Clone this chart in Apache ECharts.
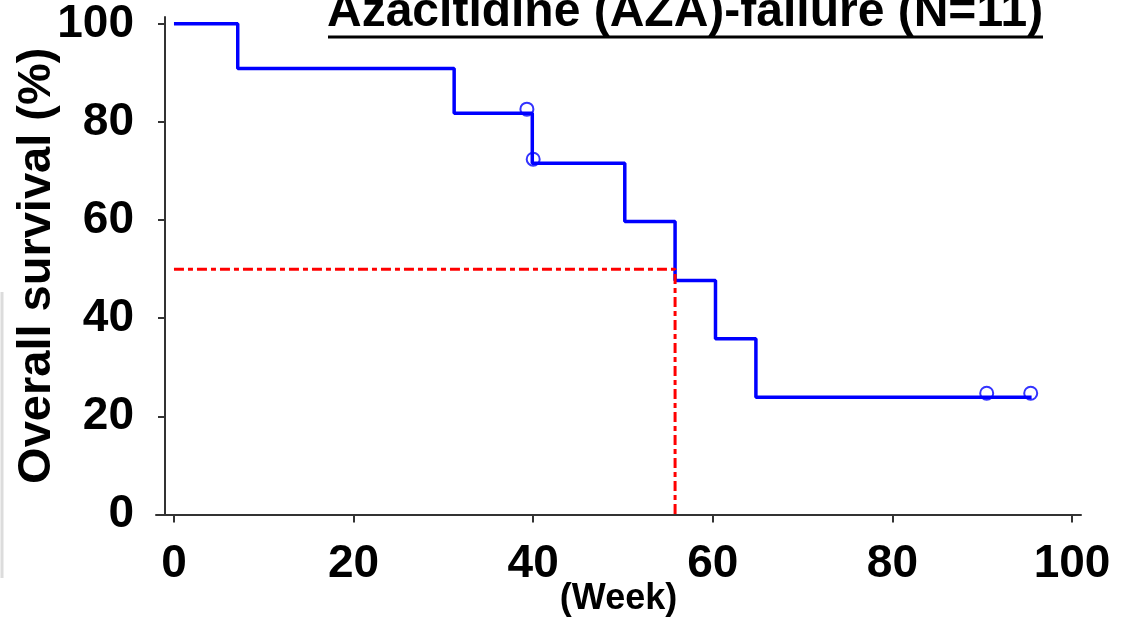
<!DOCTYPE html>
<html>
<head>
<meta charset="utf-8">
<script src="https://cdn.jsdelivr.net/npm/echarts@6/dist/echarts.min.js"></script>
<style>
html,body{margin:0;padding:0;background:#fff;}
#chart{width:1121px;height:620px;}
</style>
</head>
<body>
<div id="chart"></div>
<script>
// Kaplan-Meier curve (weeks, overall survival %)
var kmWeeks    = [0, 7.1, 31.2, 39.9, 50.2, 55.8, 60.3, 64.8, 95.5];
var kmSurvival = [100, 90.9, 81.8, 71.6, 59.7, 47.7, 35.8, 23.9, 23.9];
// Censored observations
var censorWeeks    = [39.3, 40.0, 90.5, 95.4];
var censorSurvival = [81.8, 71.6, 23.9, 23.9];
// Median survival guide
var medianWeek = 55.8;
var medianLevel = 50;
// Tick labels
var xTicks = [0, 20, 40, 60, 80, 100];
var yTicks = [0, 20, 40, 60, 80, 100];
var titleText = 'Azacitidine (AZA)-failure (N=11)';
var xName = '(Week)';
var yName = 'Overall survival (%)';

var FONT = "'Liberation Sans', Arial, sans-serif";

var kmData = kmWeeks.map(function (w, i) { return [w, kmSurvival[i]]; });
var censorData = censorWeeks.map(function (w, i) { return [w, censorSurvival[i]]; });
var medianData = [[0, medianLevel], [medianWeek, medianLevel], [medianWeek, 0]];

var chart = echarts.init(document.getElementById('chart'), null, {renderer: 'canvas'});
chart.setOption({
  animation: false,
  backgroundColor: '#ffffff',
  title: {
    text: titleText,
    left: 327,
    top: -11,
    padding: 0,
    textStyle: {fontFamily: FONT, fontSize: 48, fontWeight: 'bold', color: '#000'}
  },
  graphic: [
    {type: 'line', shape: {x1: 328, y1: 37, x2: 1043, y2: 37}, style: {stroke: '#000', lineWidth: 3}, silent: true},
    {type: 'line', shape: {x1: 2, y1: 292, x2: 2, y2: 578}, style: {stroke: '#dcdcdc', lineWidth: 3}, silent: true}
  ],
  grid: {left: 156, right: 40, top: 17, bottom: 105.5, containLabel: false, outerBoundsMode: 'none'},
  xAxis: {
    type: 'value',
    min: -2,
    max: 101,
    name: xName,
    nameLocation: 'middle',
    nameGap: 67,
    nameMoveOverlap: false,
    nameTextStyle: {fontFamily: FONT, fontSize: 36, fontWeight: 'bold', color: '#000'},
    axisLine: {show: true, onZero: false, lineStyle: {color: '#333', width: 2}},
    axisTick: {show: true, length: 8, lineStyle: {color: '#333', width: 2}, customValues: xTicks},
    axisLabel: {show: true, margin: 27, fontFamily: FONT, fontSize: 46, fontWeight: 'bold', color: '#000', customValues: xTicks},
    splitLine: {show: false}
  },
  yAxis: {
    type: 'value',
    min: 0,
    max: 101.4,
    offset: -9,
    name: yName,
    nameLocation: 'middle',
    nameGap: 104,
    nameMoveOverlap: false,
    nameTextStyle: {fontFamily: FONT, fontSize: 47, fontWeight: 'bold', color: '#000'},
    axisLine: {show: true, onZero: false, lineStyle: {color: '#333', width: 2}},
    axisTick: {show: true, length: 7, lineStyle: {color: '#333', width: 2}, customValues: yTicks},
    axisLabel: {show: true, margin: 31, fontFamily: FONT, fontSize: 46, fontWeight: 'bold', color: '#000', customValues: yTicks},
    splitLine: {show: false}
  },
  series: [
    {
      type: 'line',
      step: 'end',
      data: kmData,
      symbol: 'none',
      lineStyle: {color: '#0000ff', width: 3.5},
      z: 2
    },
    {
      type: 'scatter',
      data: censorData,
      symbol: 'circle',
      symbolSize: 13,
      symbolOffset: [0, -4],
      itemStyle: {color: 'rgba(0,0,0,0)', borderColor: '#0000ff', borderWidth: 2},
      z: 3
    },
    {
      type: 'line',
      data: medianData,
      symbol: 'none',
      lineStyle: {color: '#ff0000', width: 3, type: [10, 4, 5, 4]},
      z: 4
    }
  ]
});
</script>
</body>
</html>
